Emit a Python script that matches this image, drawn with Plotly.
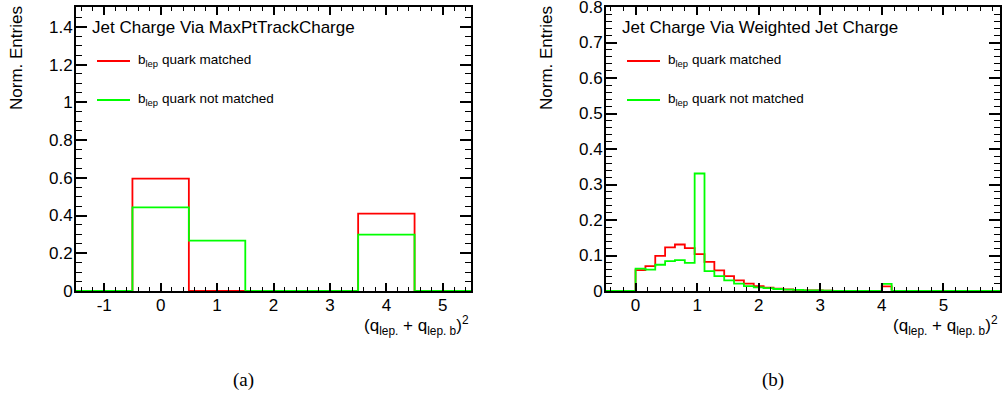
import plotly.graph_objects as go

W, H = 1006, 398

# ---------------- data ----------------
a_edges = [-1.5, -0.5, 0.5, 1.5, 2.5, 3.5, 4.5, 5.5]
a_matched = [0.0, 0.596, 0.0, 0.0, 0.0, 0.410, 0.0]
a_not_matched = [0.0, 0.443, 0.267, 0.0, 0.0, 0.299, 0.0]
a_tickvals = [-1, 0, 1, 2, 3, 4, 5]
a_ticktext = ["-1", "0", "1", "2", "3", "4", "5"]

b_edges = [-0.48, -0.32, -0.16, 0.0, 0.16, 0.32, 0.48, 0.64, 0.80, 0.96,
           1.12, 1.28, 1.44, 1.60, 1.76, 1.92, 2.08, 2.24, 2.40, 2.56,
           2.72, 2.88, 3.04, 3.20, 3.36, 3.52, 3.68, 3.84, 4.00, 4.16,
           4.32, 4.48, 4.64, 4.80, 4.96, 5.12, 5.28, 5.44, 5.60, 5.76, 5.92]
b_matched = [0.0, 0.0, 0.0, 0.059, 0.070, 0.099, 0.123, 0.131, 0.121, 0.104,
             0.082, 0.058, 0.042, 0.030, 0.021, 0.014, 0.0095, 0.0066, 0.0047, 0.003,
             0.002, 0.0015, 0.001, 0.0, 0.0, 0.0, 0.0, 0.0, 0.013, 0.0,
             0.0, 0.0, 0.0, 0.0, 0.0, 0.0, 0.0, 0.0, 0.0, 0.0]
b_not_matched = [0.0, 0.0, 0.0, 0.063, 0.060, 0.074, 0.084, 0.087, 0.079, 0.331,
                 0.056, 0.042, 0.030, 0.021, 0.014, 0.010, 0.008, 0.0057, 0.0038, 0.003,
                 0.002, 0.0015, 0.001, 0.0, 0.0, 0.0, 0.0, 0.0, 0.020, 0.0,
                 0.0, 0.0, 0.0, 0.0, 0.0, 0.0, 0.0, 0.0, 0.0, 0.0]

titles = ["Jet Charge Via MaxPtTrackCharge", "Jet Charge Via Weighted Jet Charge"]
series_names = ["b<sub>lep</sub> quark matched", "b<sub>lep</sub> quark not matched"]
panel_labels = ["(a)", "(b)"]
y_title = "Norm. Entries"
x_title = "(q<sub>lep.</sub> + q<sub>lep. b</sub>)<sup>2</sup>"

RED = "#ff0000"
GREEN = "#00ff00"
series_colors = [RED, GREEN]
FONT = "Liberation Sans, Arial, sans-serif"

px_left = [(76, 471), (606, 1000)]
px_top, px_bot = 7, 291


def fx(px):
    return px / W


def fy(py):
    return 1 - py / H


fig = go.Figure()


def add_hist(edges, values, color, name, xa, ya):
    fig.add_trace(go.Scatter(
        x=edges, y=list(values) + [0.0],
        mode="lines", line=dict(color=color, width=1.8, shape="hv"),
        name=name, xaxis=xa, yaxis=ya, showlegend=False, hoverinfo="skip"))


add_hist(a_edges, a_matched, RED, series_names[0], "x", "y")
add_hist(a_edges, a_not_matched, GREEN, series_names[1], "x", "y")
add_hist(b_edges, b_matched, RED, series_names[0], "x2", "y2")
add_hist(b_edges, b_not_matched, GREEN, series_names[1], "x2", "y2")


def xaxis_cfg(dom, rng, anchor, **kw):
    d = dict(domain=dom, range=rng, anchor=anchor, dtick=1, tick0=0,
             ticks="inside", ticklen=8, tickwidth=1.5, tickcolor="black",
             minor=dict(ticks="inside", dtick=0.2, ticklen=4, tickwidth=1.2, tickcolor="black"),
             showline=True, linewidth=2, linecolor="black", mirror="ticks",
             showgrid=False, zeroline=False, automargin=False, ticklabelstandoff=-2,
             ticklabeloverflow="allow",
             tickfont=dict(family=FONT, size=17, color="black"))
    d.update(kw)
    return d


def yaxis_cfg(rng, dt, mdt, anchor):
    return dict(domain=[fy(px_bot), fy(px_top)], range=rng, anchor=anchor, dtick=dt, tick0=0,
                ticks="inside", ticklen=11, tickwidth=1.5, tickcolor="black",
                minor=dict(ticks="inside", dtick=mdt, ticklen=6, tickwidth=1.2, tickcolor="black"),
                showline=True, linewidth=2, linecolor="black", mirror="ticks",
                showgrid=False, zeroline=False, automargin=False, ticklabelstandoff=-2,
                ticklabeloverflow="allow",
                tickfont=dict(family=FONT, size=17, color="black"))


annotations = []
shapes = []
for i in range(2):
    l, r = px_left[i]
    annotations.append(dict(xref="paper", yref="paper", x=fx(l + 14), y=fy(27),
                            xanchor="left", yanchor="middle", text=titles[i], showarrow=False,
                            font=dict(family=FONT, size=17, color="black")))
    annotations.append(dict(xref="paper", yref="paper", x=fx(l - 59), y=fy(58),
                            xanchor="center", yanchor="middle", text=y_title, textangle=-90,
                            showarrow=False, font=dict(family=FONT, size=17, color="black")))
    annotations.append(dict(xref="paper", yref="paper", x=fx(r), y=fy(325),
                            xanchor="right", yanchor="middle", text=x_title, showarrow=False,
                            font=dict(family=FONT, size=17, color="black")))
    annotations.append(dict(xref="paper", yref="paper", x=fx((l + r) / 2 - 30), y=fy(380),
                            xanchor="center", yanchor="middle", text=panel_labels[i], showarrow=False,
                            font=dict(family="Liberation Serif, DejaVu Serif, serif", size=19, color="black")))
    # legend entries
    for k in range(2):
        ly = 61 + 39 * k
        shapes.append(dict(type="line", xref="paper", yref="paper",
                           x0=fx(l + 21), x1=fx(l + 54), y0=fy(ly), y1=fy(ly),
                           line=dict(color=series_colors[k], width=1.8)))
        annotations.append(dict(xref="paper", yref="paper", x=fx(l + 60), y=fy(ly),
                                xanchor="left", yanchor="middle", text=series_names[k],
                                showarrow=False, font=dict(family=FONT, size=13.5, color="black")))

fig.update_layout(
    width=W, height=H, autosize=False,
    margin=dict(l=0, r=0, t=0, b=0, pad=0, autoexpand=False),
    paper_bgcolor="white", plot_bgcolor="white",
    xaxis=xaxis_cfg([fx(px_left[0][0]), fx(px_left[0][1])], [-1.5, 5.5], "y",
                    tickmode="array", tickvals=a_tickvals, ticktext=a_ticktext),
    yaxis=yaxis_cfg([0, 1.505], 0.2, 0.05, "x"),
    xaxis2=xaxis_cfg([fx(px_left[1][0]), fx(px_left[1][1])], [-0.48, 5.92], "y2"),
    yaxis2=yaxis_cfg([0, 0.8001], 0.1, 0.02, "x2"),
    annotations=annotations,
    shapes=shapes,
    showlegend=False,
)

fig.write_html("out.html", config={"displayModeBar": False},
               post_script="document.body.style.margin='0';")
